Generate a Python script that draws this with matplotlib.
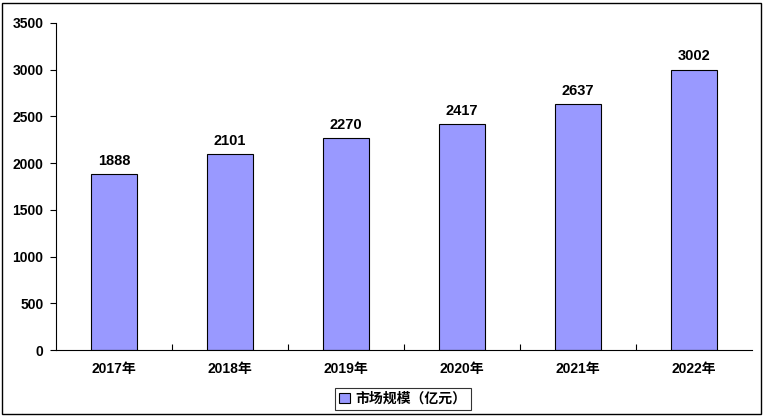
import matplotlib
matplotlib.use("Agg")
import matplotlib.pyplot as plt
from matplotlib.patches import Rectangle

plt.rcParams['font.family'] = ['Liberation Sans', 'Noto Sans CJK SC', 'DejaVu Sans']
plt.rcParams['font.weight'] = 'bold'

categories = ['2017年', '2018年', '2019年', '2020年', '2021年', '2022年']
values = [1888, 2101, 2270, 2417, 2637, 3002]
series_name = '市场规模（亿元）'

fig = plt.figure(figsize=(7.64, 4.17), dpi=100)
ax = fig.add_axes([56/764, 1-350/417, (752-56)/764, (350-23)/417])

x = range(len(categories))
bars = ax.bar(x, values, width=0.4, color='#9999FF', edgecolor='black', linewidth=0.8, label=series_name)
for xi, v in zip(x, values):
    ax.text(xi, v + 65, str(v), ha='center', va='bottom', fontsize=10.5, fontweight='bold')

ax.set_xlim(-0.5, len(categories) - 0.5)
ax.set_ylim(0, 3500)
ax.set_yticks(range(0, 3501, 500))
ax.set_xticks(list(x))
ax.set_xticklabels(categories, fontsize=10, fontweight='bold')
ax.set_xticks([i + 0.5 for i in range(len(categories) - 1)], minor=True)
ax.tick_params(axis='x', which='major', length=0, pad=9)
ax.tick_params(axis='x', which='minor', length=4, direction='in', width=0.8)
ax.tick_params(axis='y', length=4, direction='out', width=0.8, labelsize=10, pad=5)
for lbl in ax.get_yticklabels():
    lbl.set_fontweight('bold')
ax.spines['top'].set_visible(False)
ax.spines['right'].set_visible(False)
for s in ['left', 'bottom']:
    ax.spines[s].set_linewidth(0.8)

leg = fig.legend(handles=[bars], labels=[series_name], loc='center',
                 bbox_to_anchor=(403/764, 1-399/417), frameon=True, fancybox=False,
                 edgecolor='black', fontsize=10, handlelength=0.8, handleheight=0.8,
                 handletextpad=0.4, borderpad=0.3)
leg.get_frame().set_linewidth(0.8)
for t in leg.get_texts():
    t.set_fontweight('bold')

fig.patches.append(Rectangle((2/764, 3/417), 759/764, 411/417, transform=fig.transFigure,
                             fill=False, edgecolor='black', linewidth=1))

fig.savefig('out.png', dpi=100)
